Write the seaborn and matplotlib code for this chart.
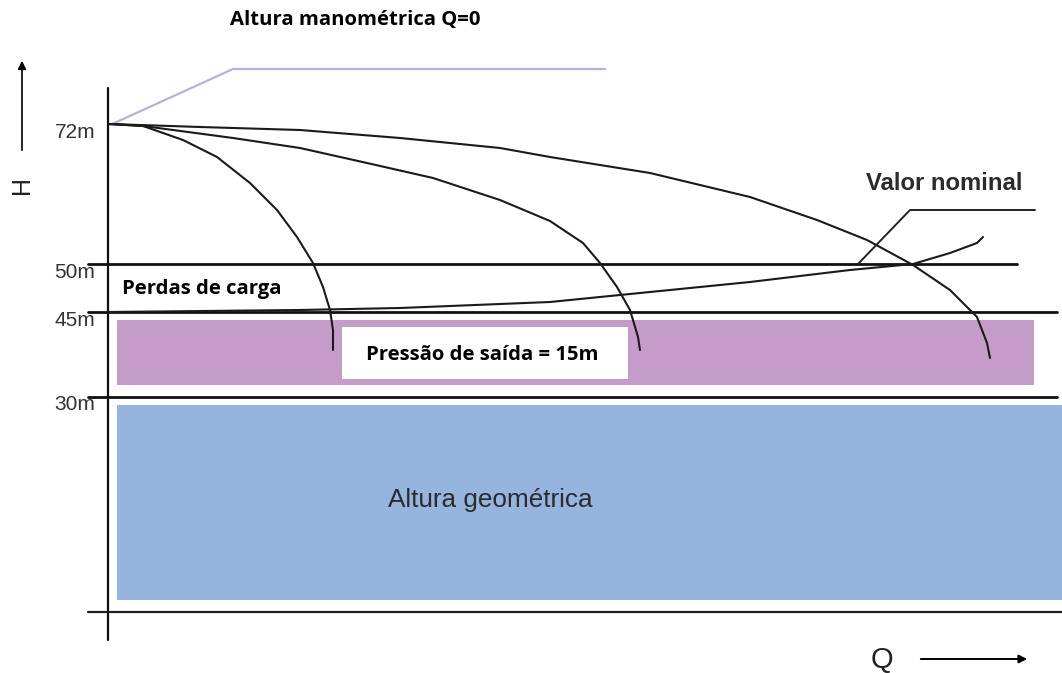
import numpy as np
import pandas as pd
import matplotlib
matplotlib.use("Agg")
import matplotlib.pyplot as plt
from matplotlib.patches import Rectangle
import seaborn as sns

# schematic drawing units: Q runs left->right, H drawn top->bottom (pixel-like)
level_labels = ["72m", "50m", "45m", "30m"]
level_y = [125, 264, 312, 397]

# pump curves for three speeds
curve_a_q = [110, 143, 183, 217, 250, 277, 297, 313, 323, 330, 333, 333]
curve_a_h = [124, 126, 140, 157, 183, 210, 237, 263, 287, 310, 330, 350]
curve_b_q = [110, 143, 233, 300, 367, 433, 500, 550, 583, 600, 617, 630, 638, 640]
curve_b_h = [124, 126, 138, 148, 163, 178, 200, 221, 243, 263, 287, 310, 337, 350]
curve_c_q = [110, 200, 300, 400, 500, 550, 650, 750, 817, 867, 913, 950, 977, 987, 990]
curve_c_h = [124, 127, 130, 138, 148, 157, 173, 197, 220, 240, 265, 290, 317, 343, 358]
# system curve (perdas de carga)
system_q = [108, 300, 400, 550, 650, 750, 850, 913, 950, 977, 983]
system_h = [312, 310, 308, 302, 292, 282, 270, 264, 253, 243, 237]

sns.set_theme(style="white")
plt.rcParams['font.family'] = ['Liberation Sans', 'DejaVu Sans']

fig = plt.figure(figsize=(10.62, 6.73), dpi=100)
ax = fig.add_axes([0, 0, 1, 1])

# coloured bands
ax.add_patch(Rectangle((117, 320), 917, 65, color="#c59cc9", lw=0, zorder=1))
ax.add_patch(Rectangle((117, 405), 960, 195, color="#95b5df", lw=0, zorder=1))
ax.add_patch(Rectangle((342, 327), 286, 52, color="white", lw=0, zorder=2))

# level lines
line_ends = [None, 1017, 1057, 1057]
for lab, y, xe in zip(level_labels, level_y, line_ends):
    if xe is not None:
        ax.plot([88, xe], [y, y], color="#111111", lw=2, zorder=3)
    ax.text(95, y + 8, lab, ha="right", va="center", fontsize=15, color="#333333")
ax.plot([88, 1062], [612, 612], color="#222222", lw=1.6, zorder=3)
ax.plot([108, 108], [88, 640], color="#111111", lw=1.6, zorder=3)

curves = pd.DataFrame({
    "q": curve_a_q + curve_b_q + curve_c_q + system_q,
    "h": curve_a_h + curve_b_h + curve_c_h + system_h,
    "curve": (["a"] * len(curve_a_q) + ["b"] * len(curve_b_q)
              + ["c"] * len(curve_c_q) + ["sys"] * len(system_q)),
})
sns.lineplot(data=curves, x="q", y="h", units="curve", estimator=None, sort=False,
             color="#1a1a1a", lw=1.5, ax=ax, zorder=4)

# shutoff head leader (lavender)
ax.plot([110, 233, 605], [125, 69, 69], color="#b3b3e3", lw=1.6, zorder=3)
# valor nominal leader
ax.plot([858, 910, 1035], [264, 210, 210], color="#222222", lw=1.4, zorder=4)

# axes arrows
ax.annotate("", xy=(22, 58), xytext=(22, 153),
            arrowprops=dict(arrowstyle="-|>", color="black", lw=1.2, mutation_scale=12))
ax.annotate("", xy=(1030, 659), xytext=(918, 659),
            arrowprops=dict(arrowstyle="-|>", color="black", lw=1.4, mutation_scale=12))
ax.text(22, 185, "H", rotation=90, ha="center", va="center", fontsize=18, color="#222222")
ax.text(882, 660, "Q", ha="center", va="center", fontsize=21, color="#222222")

bold = dict(family=["Open Sans", "DejaVu Sans"], fontweight="bold", color="black")
ax.text(230, 20, "Altura manométrica Q=0", ha="left", va="center", fontsize=14.6, **bold)
ax.text(122, 289, "Perdas de carga", ha="left", va="center", fontsize=14.6, **bold)
ax.text(366, 355, "Pressão de saída = 15m", ha="left", va="center", fontsize=14.6,
        zorder=5, **bold)
ax.text(388, 500, "Altura geométrica", ha="left", va="center", fontsize=18.8,
        color="#2b2b2b")
ax.text(866, 183, "Valor nominal", ha="left", va="center", fontsize=17.2,
        fontweight="bold", color="#2b2b2b")

ax.set_xlim(0, 1062)
ax.set_ylim(673, 0)
ax.axis('off')

fig.savefig("out.png", dpi=100)
